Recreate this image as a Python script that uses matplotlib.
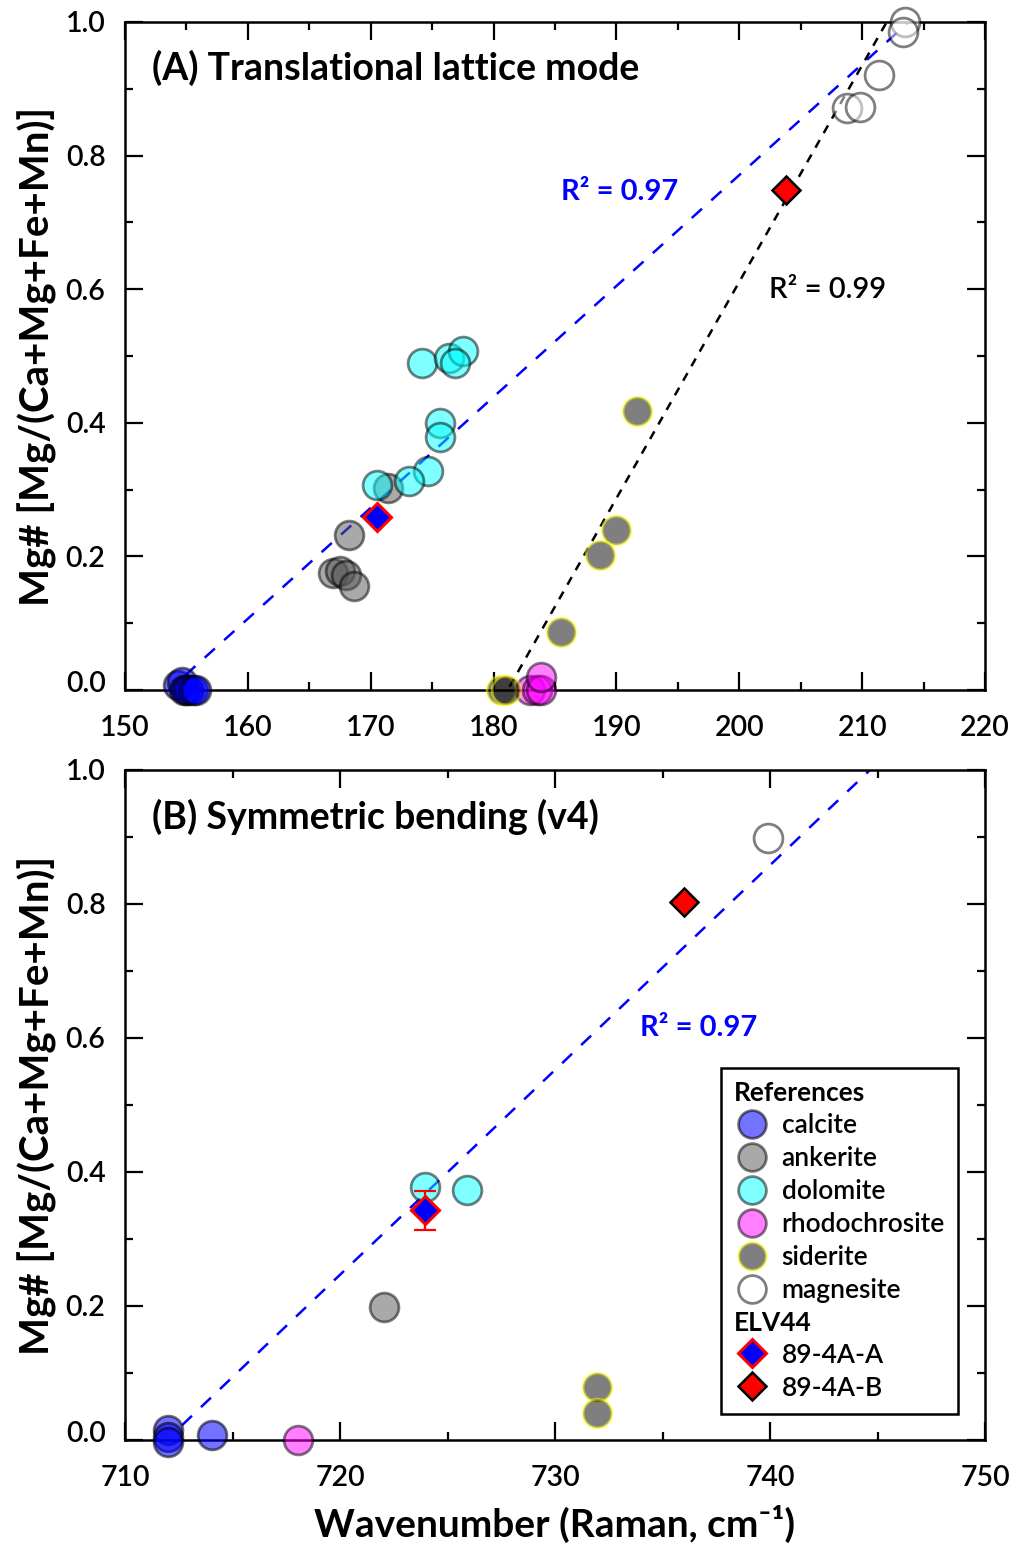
import matplotlib
matplotlib.use("Agg")
import matplotlib.pyplot as plt
from matplotlib.lines import Line2D
from matplotlib.transforms import ScaledTranslation

plt.rcParams['font.family'] = ['Lato', 'DejaVu Sans']

# ---------------- Data: panel A (translational lattice mode) ----------------
a_calcite_x = [154.3, 154.6, 154.8, 155.0, 155.2, 155.5, 155.8]
a_calcite_y = [0.008, 0.012, 0.0, 0.0, 0.0, 0.0, 0.0]
a_ankerite_x = [168.2, 166.9, 167.5, 168.0, 168.6, 171.4]
a_ankerite_y = [0.232, 0.175, 0.178, 0.172, 0.155, 0.302]
a_dolomite_x = [174.2, 176.4, 177.5, 176.9, 175.6, 175.6, 174.65, 173.1, 170.5]
a_dolomite_y = [0.490, 0.497, 0.507, 0.490, 0.400, 0.379, 0.328, 0.313, 0.307]
a_rhodo_x = [183.0, 183.5, 183.9, 183.9]
a_rhodo_y = [0.0, 0.0, 0.0, 0.020]
a_siderite_x = [191.7, 190.0, 188.7, 185.5, 180.6, 181.0]
a_siderite_y = [0.418, 0.240, 0.202, 0.087, 0.0, 0.0]
a_magnesite_x = [213.5, 213.3, 211.35, 208.8, 209.8]
a_magnesite_y = [1.000, 0.985, 0.920, 0.871, 0.873]
a_sampleA_x = [170.5]
a_sampleA_y = [0.259]
a_sampleB_x = [203.8]
a_sampleB_y = [0.749]
a_fit1_x = [154.9, 213.8]
a_fit1_y = [0.022, 1.0]
a_fit2_x = [181.3, 212.0]
a_fit2_y = [0.005, 1.0]

# ---------------- Data: panel B (symmetric bending v4) ----------------
b_calcite_x = [712.0, 712.0, 712.0, 714.05]
b_calcite_y = [0.015, 0.005, -0.003, 0.008]
b_ankerite_x = [722.05]
b_ankerite_y = [0.198]
b_dolomite_x = [723.95, 725.9]
b_dolomite_y = [0.378, 0.373]
b_rhodo_x = [718.05]
b_rhodo_y = [0.0]
b_siderite_x = [731.95, 731.95]
b_siderite_y = [0.079, 0.040]
b_magnesite_x = [739.9]
b_magnesite_y = [0.899]
b_sampleA_x = [723.95]
b_sampleA_y = [0.343]
b_sampleA_err = [0.029]
b_sampleB_x = [736.0]
b_sampleB_y = [0.803]
b_fit_x = [712.65, 744.65]
b_fit_y = [0.022, 1.0]

styles = {
    'calcite': dict(facecolor='blue', edgecolor='black', alpha=0.55),
    'ankerite': dict(facecolor='#555555', edgecolor='black', alpha=0.5),
    'dolomite': dict(facecolor='cyan', edgecolor='black', alpha=0.5),
    'rhodochrosite': dict(facecolor='magenta', edgecolor='black', alpha=0.5),
    'siderite': dict(facecolor='black', edgecolor='yellow', alpha=0.5),
    'magnesite': dict(facecolor='white', edgecolor='black', alpha=0.5),
}

fig = plt.figure(figsize=(10.15, 15.44), dpi=100)
axA = fig.add_axes([125 / 1015, (1544 - 690) / 1544, 860 / 1015, 668 / 1544])
axB = fig.add_axes([125 / 1015, (1544 - 1440) / 1544, 860 / 1015, 670 / 1544])

S = 430
LW = 2.0
TICKFS = 20.5


def circles(ax, xs, ys, kind):
    st = styles[kind]
    ax.scatter(xs, ys, s=S, marker='o', linewidths=LW, zorder=3, clip_on=False, **st)


def style_axes(ax, xlim, xmaj, xmin):
    ax.set_xlim(*xlim)
    ax.set_ylim(0, 1.0)
    ax.set_xticks(xmaj)
    ax.set_xticks(xmin, minor=True)
    ax.set_yticks([0.0, 0.2, 0.4, 0.6, 0.8, 1.0])
    ax.set_yticks([0.1, 0.3, 0.5, 0.7, 0.9], minor=True)
    ax.set_yticklabels(['0.0', '0.2', '0.4', '0.6', '0.8', '1.0'])
    ax.tick_params(which='both', direction='in', top=True, right=True, width=1.6,
                   labelsize=TICKFS)
    ax.tick_params(axis='x', which='major', pad=18)
    ax.tick_params(axis='y', which='major', pad=14)
    ax.tick_params(which='major', length=13)
    ax.tick_params(which='minor', length=6)
    for lab in ax.get_xticklabels() + ax.get_yticklabels():
        lab.set_fontweight('semibold')
    for sp in ax.spines.values():
        sp.set_linewidth(1.8)
    ax.set_ylabel('Mg# [Mg/(Ca+Mg+Fe+Mn)]', fontsize=29, fontweight='bold', labelpad=6)
    # lift the 0.0 label slightly, as in the reference
    lab = ax.yaxis.get_major_ticks()[0].label1
    lab.set_transform(lab.get_transform() + ScaledTranslation(0, 8 / 100, fig.dpi_scale_trans))


# ---------------- Panel A ----------------
axA.plot(a_fit1_x, a_fit1_y, color='blue', lw=1.8, dashes=(5.5, 5), zorder=2)
axA.plot(a_fit2_x, a_fit2_y, color='black', lw=1.8, dashes=(3.5, 3.2), zorder=2)
circles(axA, a_calcite_x, a_calcite_y, 'calcite')
circles(axA, a_ankerite_x, a_ankerite_y, 'ankerite')
circles(axA, a_dolomite_x, a_dolomite_y, 'dolomite')
circles(axA, a_rhodo_x, a_rhodo_y, 'rhodochrosite')
circles(axA, a_siderite_x, a_siderite_y, 'siderite')
circles(axA, a_magnesite_x, a_magnesite_y, 'magnesite')
axA.plot(a_sampleA_x, a_sampleA_y, 'D', ms=14, mfc='blue', mec='red', mew=2.2, zorder=5)
axA.plot(a_sampleB_x, a_sampleB_y, 'D', ms=14, mfc='red', mec='black', mew=1.8, zorder=5)
style_axes(axA, (150, 220), [150, 160, 170, 180, 190, 200, 210, 220],
           [155, 165, 175, 185, 195, 205, 215])
axA.text(0.031, 0.931, '(A) Translational lattice mode', transform=axA.transAxes,
         fontsize=27, fontweight='bold', va='center', ha='left')
axA.text(190.3, 0.745, 'R² = 0.97', color='blue', fontsize=21, fontweight='bold',
         ha='center', va='center')
axA.text(207.2, 0.599, 'R² = 0.99', color='black', fontsize=21, fontweight='semibold',
         ha='center', va='center')

# ---------------- Panel B ----------------
axB.plot(b_fit_x, b_fit_y, color='blue', lw=1.8, dashes=(5.5, 5), zorder=2)
circles(axB, b_calcite_x, b_calcite_y, 'calcite')
circles(axB, b_ankerite_x, b_ankerite_y, 'ankerite')
circles(axB, b_dolomite_x, b_dolomite_y, 'dolomite')
circles(axB, b_rhodo_x, b_rhodo_y, 'rhodochrosite')
circles(axB, b_siderite_x, b_siderite_y, 'siderite')
circles(axB, b_magnesite_x, b_magnesite_y, 'magnesite')
axB.errorbar(b_sampleA_x, b_sampleA_y, yerr=b_sampleA_err, fmt='none', ecolor='red',
             elinewidth=1.6, capsize=8, capthick=1.6, zorder=4)
axB.plot(b_sampleA_x, b_sampleA_y, 'D', ms=14, mfc='blue', mec='red', mew=2.2, zorder=5)
axB.plot(b_sampleB_x, b_sampleB_y, 'D', ms=14, mfc='red', mec='black', mew=1.8, zorder=5)
style_axes(axB, (710, 750), [710, 720, 730, 740, 750], [715, 725, 735, 745])
axB.text(0.031, 0.930, '(B) Symmetric bending (v4)', transform=axB.transAxes,
         fontsize=27, fontweight='bold', va='center', ha='left')
axB.text(736.7, 0.615, 'R² = 0.97', color='blue', fontsize=21, fontweight='bold',
         ha='center', va='center')
axB.set_xlabel('Wavenumber (Raman, cm⁻¹)', fontsize=28, fontweight='bold', labelpad=10)

# ---------------- Legend ----------------
def circ_handle(kind):
    st = styles[kind]
    return Line2D([], [], ls='none', marker='o', ms=20, mfc=st['facecolor'],
                  mec=st['edgecolor'], mew=LW, alpha=st['alpha'])

blank = Line2D([], [], ls='none', marker='none')
handles = [blank,
           circ_handle('calcite'), circ_handle('ankerite'), circ_handle('dolomite'),
           circ_handle('rhodochrosite'), circ_handle('siderite'), circ_handle('magnesite'),
           blank,
           Line2D([], [], ls='none', marker='D', ms=14, mfc='blue', mec='red', mew=2.2),
           Line2D([], [], ls='none', marker='D', ms=14, mfc='red', mec='black', mew=1.8)]
labels = ['References', 'calcite', 'ankerite', 'dolomite', 'rhodochrosite', 'siderite',
          'magnesite', 'ELV44', '89-4A-A', '89-4A-B']
leg = axB.legend(handles, labels, loc='upper right', bbox_to_anchor=(0.9686, 0.555),
                 fontsize=19, frameon=True, fancybox=False, framealpha=1,
                 edgecolor='black', handlelength=1.35, handletextpad=0.45,
                 labelspacing=0.3, borderpad=0.5, borderaxespad=0)
leg.get_frame().set_linewidth(1.8)
header_idx = [0, 7]
texts = leg.get_texts()
for i, t in enumerate(texts):
    t.set_fontweight('bold' if i in header_idx else 'semibold')
try:
    rows = leg._legend_handle_box.get_children()[0].get_children()
    for i in header_idx:
        hp = rows[i]
        da = hp.get_children()[0]
        da.width = 0
        hp.sep = 0
except Exception:
    pass

fig.savefig('out.png', dpi=100)
